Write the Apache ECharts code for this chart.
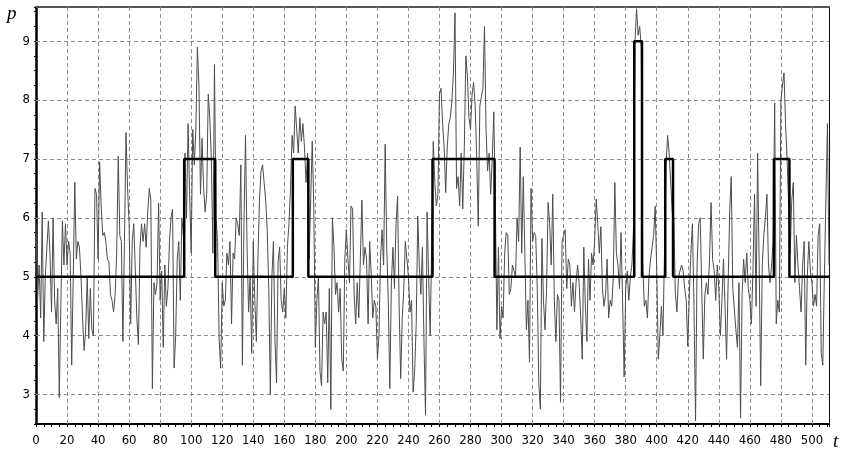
<!DOCTYPE html>
<html>
<head>
<meta charset="utf-8">
<script src="https://cdn.jsdelivr.net/npm/echarts@6/dist/echarts.min.js"></script>
<style>
html,body{margin:0;padding:0;background:#fff;}
#c{width:848px;height:457px;}
</style>
</head>
<body>
<div id="c"></div>
<script>
const noise0 = [5.9,4.6,5.2,4.3,6.1,3.9,5.0,5.5,5.95,5.4, 4.4,6.0,4.6,4.2,4.8,2.95,4.5,5.95,5.2,5.9,
 5.2,5.6,5.4,3.5,5.0,6.6,5.3,5.6,5.5,5.0, 4.3,3.75,4.1,5.0,3.95,4.8,4.1,4.0,6.5,6.4,
 5.3,6.95,6.2,5.7,5.75,5.6,5.3,5.25,4.7,4.6, 4.4,4.7,5.4,7.05,5.7,5.6,3.9,5.6,7.45,6.5,
 5.9,4.2,5.6,5.9,5.1,4.3,3.85,5.5,5.9,5.6, 5.9,5.5,6.1,6.5,6.3,3.1,4.9,4.7,4.9,6.25,
 4.6,5.1,3.8,5.2,4.5,4.8,5.6,6.0,6.15,3.45, 4.0,5.3,5.6,4.6,6.0,5.7,7.1,6.0,7.6,6.4];
const noise1 = [5.4,7.5,6.9,7.5,8.9,8.25,6.4,7.35,6.5,6.1, 6.4,8.1,7.7,7.0,5.4,8.6,6.0,5.6,3.95,3.45,
 4.9,4.5,4.6,5.4,5.2,5.6,4.2,5.4,5.3,6.0, 5.9,5.7,6.9,3.5,5.9,7.4,5.5,4.4,5.0,3.7,
 5.6,4.6,3.9,5.3,6.3,6.8,6.9,6.9,6.3,5.8, 4.8,3.0,5.0,5.6,3.9,3.2,5.25,5.5,4.6,4.4,
 4.8,4.3,5.5,5.9,6.5,7.4,7.1,7.9,7.5,7.1, 7.7,7.3,7.6,7.2,6.6,7.1,5.3,5.3,7.3,6.2,
 3.8,4.6,5.0,3.4,3.15,4.4,4.2,4.4,3.2,4.8, 2.75,6.0,5.5,4.7,4.9,4.4,4.8,3.6,3.4,5.3];
const noise2 = [5.8,5.3,4.9,6.2,6.15,4.7,4.2,4.9,4.3,5.3, 6.3,5.2,5.5,5.3,4.2,5.6,5.05,4.3,4.6,4.5,
 3.6,4.0,5.3,5.8,5.2,7.25,5.5,4.6,3.1,4.9, 5.5,4.8,5.9,6.37,4.5,3.27,4.3,4.8,5.6,5.3,
 5.0,4.4,4.6,3.04,3.4,4.2,6.03,5.2,4.7,5.5, 3.9,2.65,6.1,5.0,4.0,5.6,7.3,6.6,6.2,6.4,
 8.1,8.2,7.6,7.2,6.43,7.2,7.6,7.7,8.0,8.46, 9.48,6.5,6.7,6.2,7.1,6.15,7.2,8.75,8.4,7.7,
 7.5,8.1,8.3,7.9,7.0,5.86,7.9,8.05,8.2,9.25, 7.5,6.8,7.1,6.4,7.0,7.8,6.2,4.1,5.5,3.95];
const noise3 = [4.5,4.3,5.4,5.75,5.7,4.7,4.8,5.2,5.1,5.0, 6.0,5.6,7.2,5.4,6.7,5.4,4.1,4.6,3.55,6.5,
 5.6,5.75,5.7,4.8,3.2,2.75,5.65,4.6,4.1,4.8, 6.26,5.9,5.2,6.4,4.6,3.9,4.7,4.6,2.87,5.6,
 5.7,5.8,4.8,5.3,5.2,4.5,4.9,4.4,4.9,5.2, 4.9,4.3,3.6,5.5,4.5,3.9,5.3,4.6,5.4,5.2,
 5.6,6.32,5.9,5.4,5.85,4.8,4.5,4.7,5.3,4.3, 4.6,4.5,5.0,6.6,5.4,5.2,4.8,5.75,4.6,3.3,
 4.8,5.1,4.6,5.0,5.2,5.8,9.0,9.55,9.1,9.25, 8.9,5.2,4.5,4.6,4.3,5.0,5.3,5.5,5.7,6.2];
const noise4 = [5.1,3.6,4.0,4.5,4.0,5.4,6.9,7.4,7.1,7.1, 6.1,6.0,4.7,4.4,5.0,5.1,5.2,5.1,4.8,4.6,
 3.82,4.7,5.4,5.9,4.5,2.55,5.2,5.9,6.0,4.8, 3.6,4.7,4.9,4.7,5.3,6.26,5.3,5.1,4.6,5.2,
 4.8,4.0,4.6,5.3,4.5,3.6,4.9,6.1,6.7,4.8, 4.8,4.1,3.8,4.9,2.6,4.7,5.3,4.9,5.4,4.8,
 4.6,4.2,5.1,6.4,4.5,7.1,5.2,3.15,5.2,5.7, 6.0,6.4,5.2,4.9,5.2,5.6,7.95,4.2,4.6,4.4,
 8.0,8.24,8.46,7.6,7.0,7.0,5.4,6.3,6.6,4.9, 5.7,5.2,4.8,4.4,5.2,5.6,3.5,5.0,5.6,5.1];
const noise5 = [4.9,4.5,4.7,4.5,5.7,5.9,3.7,3.5,5.0,6.3, 7.6,5.2];

// estimated piecewise-constant level
const stepStarts = [0, 95.5, 115.5, 165.5, 175.5, 255.5, 295.5, 385.5, 390.5, 405.5, 410.5, 475.5, 485.5];
const stepLevels = [5, 7, 5, 7, 5, 7, 5, 9, 5, 7, 5, 7, 5];
const tEnd = 511;

const xTicks = [0,20,40,60,80,100,120,140,160,180,200,220,240,260,280,300,320,340,360,380,400,420,440,460,480,500];
const yTicks = [3,4,5,6,7,8,9];

const noise = [].concat(noise0, noise1, noise2, noise3, noise4, noise5);
const noiseData = noise.map((v, i) => [i, v]);
const stepData = [];
stepStarts.forEach((s, i) => {
  const e = i + 1 < stepStarts.length ? stepStarts[i + 1] : tEnd;
  stepData.push([s, stepLevels[i]]);
  stepData.push([e, stepLevels[i]]);
});

const gridLines = yTicks.map(v => ({yAxis: v}))
  .concat(xTicks.filter(v => v > 0).map(v => ({xAxis: v})));

const chart = echarts.init(document.getElementById('c'), null, {renderer: 'canvas'});
const labelFont = "'Liberation Sans Narrow','DejaVu Sans Condensed','Liberation Sans',sans-serif";
chart.setOption({
  animation: false,
  backgroundColor: '#fff',
  grid: {left: 36, right: 19, top: 7, bottom: 33},
  xAxis: [{
    type: 'value', min: 0, max: tEnd, interval: 20,
    axisLine: {show: true, onZero: false, lineStyle: {color: '#000', width: 2}},
    axisTick: {show: true, length: 3, lineStyle: {color: '#000'}},
    minorTick: {show: true, splitNumber: 4, length: 3, lineStyle: {color: '#000'}},
    axisLabel: {
      margin: 10, color: '#000', fontSize: 13, fontFamily: labelFont,
      formatter: v => (xTicks.indexOf(v) >= 0 ? String(v) : ''),
      showMaxLabel: false
    },
    splitLine: {show: false}
  }, {
    type: 'value', position: 'top', min: 0, max: tEnd,
    axisLine: {show: true, onZero: false, lineStyle: {color: '#555', width: 2}},
    axisTick: {show: false}, axisLabel: {show: false}, splitLine: {show: false}
  }],
  yAxis: [{
    type: 'value', min: 2.5, max: 9.58, interval: 0.25,
    axisLine: {show: true, onZero: false, lineStyle: {color: '#000', width: 2.5}},
    axisTick: {show: true, length: 2, lineStyle: {color: '#000'}},
    axisLabel: {
      margin: 6, color: '#000', fontSize: 13, fontFamily: labelFont,
      formatter: v => {
        const r = Math.round(v);
        return (Math.abs(v - r) < 1e-6 && yTicks.indexOf(r) >= 0) ? String(r) : '';
      }
    },
    splitLine: {show: false}
  }, {
    type: 'value', position: 'right', min: 2.5, max: 9.58,
    axisLine: {show: true, onZero: false, lineStyle: {color: '#111', width: 1}},
    axisTick: {show: false}, axisLabel: {show: false}, splitLine: {show: false}
  }],
  graphic: [
    {type: 'text', left: 7, top: 4, style: {text: 'p', font: "italic 19px 'Liberation Serif','DejaVu Serif',serif", fill: '#000'}},
    {type: 'text', left: 833, top: 432, style: {text: 't', font: "italic 19px 'Liberation Serif','DejaVu Serif',serif", fill: '#000'}}
  ],
  series: [
    {
      type: 'line', data: noiseData, z: 3, symbol: 'none', silent: true,
      lineStyle: {color: '#4d4d4d', width: 1},
      markLine: {
        silent: true, z: 1, symbol: ['none', 'none'], label: {show: false},
        animation: false,
        lineStyle: {color: '#8c8c8c', width: 1, type: [4, 3]},
        emphasis: {disabled: true},
        data: gridLines
      }
    },
    {
      type: 'line', data: stepData, z: 4, symbol: 'none', silent: true,
      lineStyle: {color: '#000', width: 2.5}
    }
  ]
});
</script>
</body>
</html>
